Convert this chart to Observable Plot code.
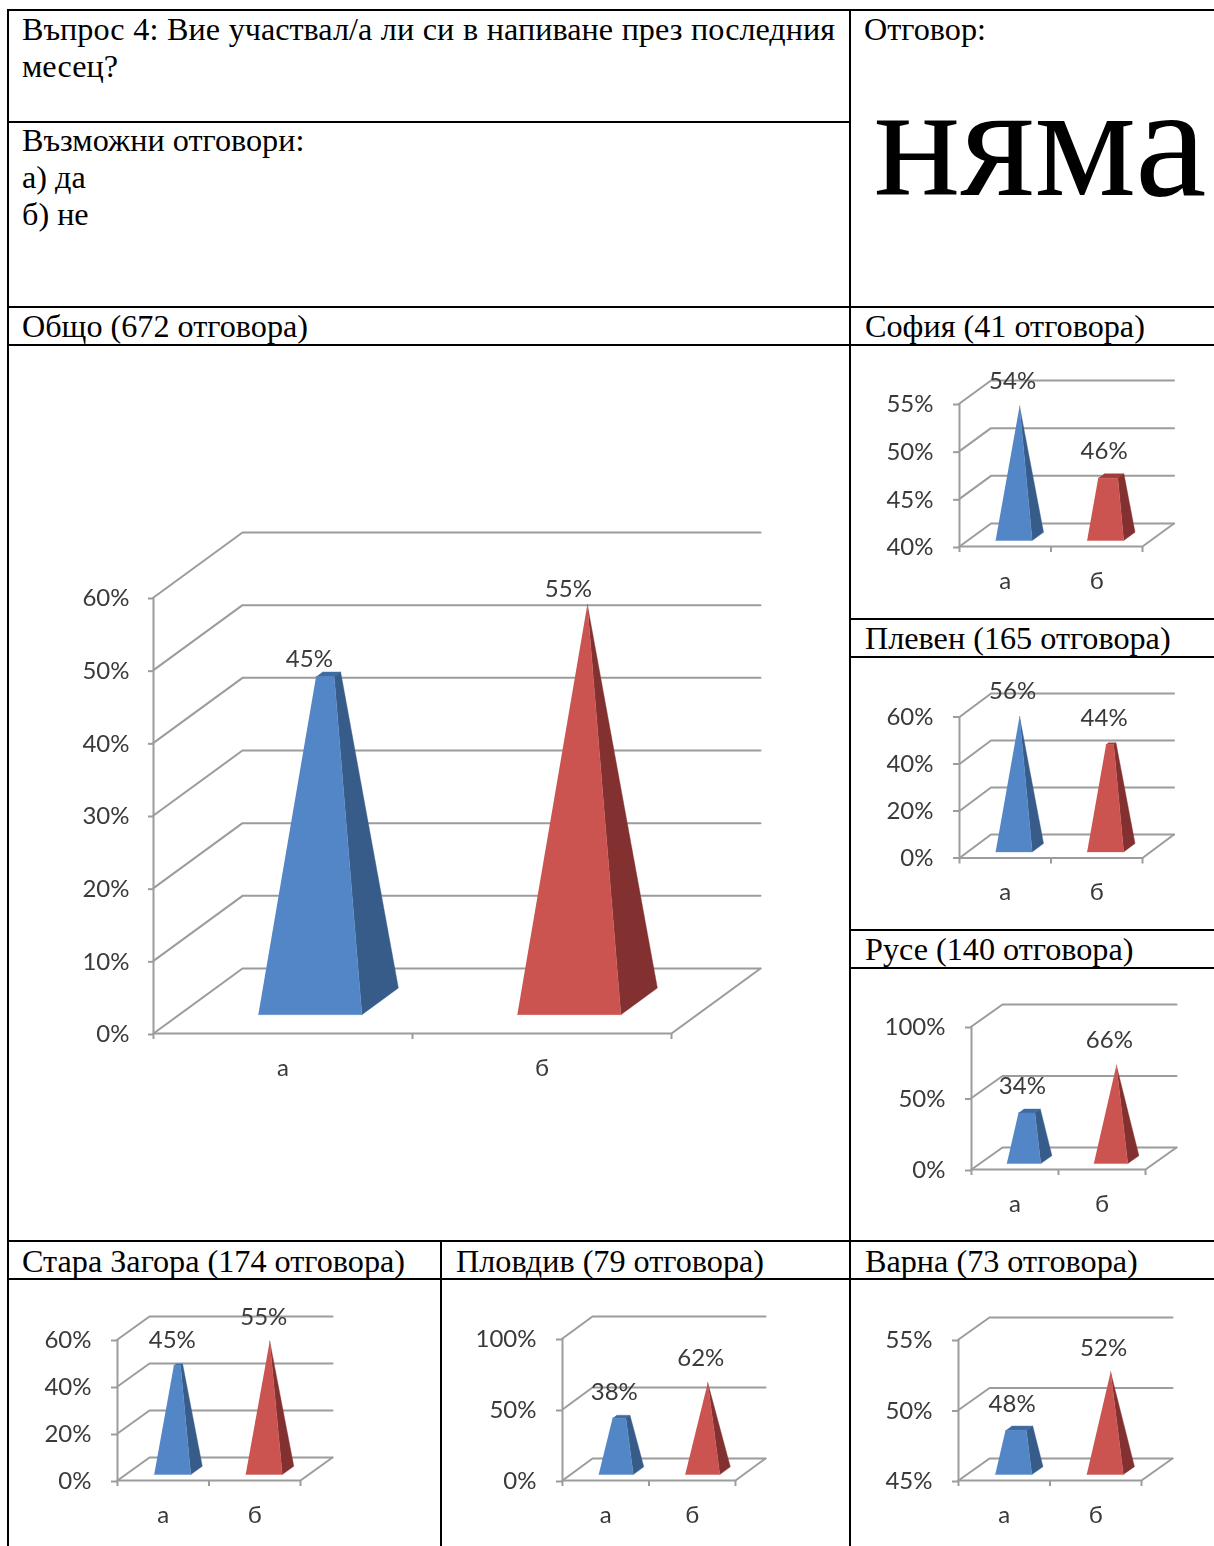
<!DOCTYPE html>
<html lang="bg">
<head>
<meta charset="utf-8">
<script src="https://cdn.jsdelivr.net/npm/d3@7"></script>
<script src="https://cdn.jsdelivr.net/npm/@observablehq/plot@0.6"></script>
<style>
html,body{margin:0;padding:0;background:#fff;width:1214px;height:1546px;overflow:hidden}
#page{position:relative;width:1214px;height:1546px;overflow:hidden;font-family:"Liberation Serif",serif;color:#000}
.rule{position:absolute;background:#000}
.t{position:absolute;font-size:32.2px;line-height:37px;white-space:nowrap}
.j{white-space:normal;text-align:justify;width:813px}
svg.plot-chart{position:absolute;background:transparent;filter:blur(.35px)}
</style>
</head>
<body>
<div id="page"></div>
<script>
// ---- Data ----
const categories = ["а", "б"];
const regions = ["Общо", "София", "Плевен", "Русе", "Стара Загора", "Пловдив", "Варна"];
const answerCounts = [672, 41, 165, 140, 174, 79, 73];
const seriesA = [45, 53.66, 55.76, 34, 45, 38, 48];
const seriesB = [54.6, 46.34, 44.24, 66, 55, 62, 52];
const axisTicks = [
  [0, 10, 20, 30, 40, 50, 60],
  [40, 45, 50, 55],
  [0, 20, 40, 60],
  [0, 50, 100],
  [0, 20, 40, 60],
  [0, 50, 100],
  [45, 50, 55]
];
const questionText = "Въпрос 4: Вие участвал/а ли си в напиване през последния месец?";
const optionsLabel = "Възможни отговори:";
const optionLines = ["а) да", "б) не"];
const answerLabel = "Отговор:";
const answerText = "няма";

// ---- Layout (frame of each chart on the page) ----
const frames = [
  {x0:153, x2:671,  yB:1033, yT:597,  dX:89,   dY:65,   d0:.29, d1:.70, u0:.305, uW:.40, lx:-19, ly:-15,   ty:1, head:[22,308]},
  {x0:959, x2:1142, yB:546,  yT:403,  dX:31.5, dY:23,   d0:.26, d1:.62, u0:.305, uW:.40, lx:-7,  ly:-24.5, ty:1, head:[865,308]},
  {x0:959, x2:1142, yB:857,  yT:716,  dX:31.5, dY:23.5, d0:.26, d1:.62, u0:.305, uW:.40, lx:-7,  ly:-25,   ty:0, head:[865,620]},
  {x0:971, x2:1145, yB:1169, yT:1026, dX:31,   dY:22,   d0:.27, d1:.63, u0:.31,  uW:.39, lx:-7,  ly:-24.5, ty:1, head:[865,931]},
  {x0:117, x2:300,  yB:1480, yT:1339, dX:32,   dY:23,   d0:.26, d1:.62, u0:.31,  uW:.40, lx:-6,  ly:-24,   ty:1, head:[22,1243]},
  {x0:562, x2:735,  yB:1480, yT:1338, dX:30,   dY:22,   d0:.27, d1:.62, u0:.325, uW:.40, lx:-7,  ly:-24,   ty:1, head:[456,1243]},
  {x0:958, x2:1141, yB:1480, yT:1339, dX:31,   dY:22,   d0:.27, d1:.63, u0:.31,  uW:.40, lx:-7,  ly:-24,   ty:1, head:[865,1243]}
];
const hRules = [[8,1214,10],[8,850,122],[8,1214,307],[8,1214,345],[850,1214,619],[850,1214,657],[850,1214,930],[850,1214,968],[8,1214,1241],[8,1214,1279]];
const vRules = [[8,10,1546],[850,10,1546],[441,1241,1279],[441,1279,1546]];

const gridColor = "#9c9c9c", textColor = "#3a3a3a";
const palette = [
  {front:"#5386c6", side:"#375c8a", cap:"#3d6ca3"},
  {front:"#cb5450", side:"#833130", cap:"#a33c39"}
];

const page = document.getElementById("page");
function rule(x, y, w, h) {
  const d = document.createElement("div");
  d.className = "rule";
  Object.assign(d.style, {left:x+"px", top:y+"px", width:w+"px", height:h+"px"});
  page.append(d);
}
function text(str, x, y, cls = "t", extra = {}) {
  const d = document.createElement("div");
  d.className = cls;
  d.textContent = str;
  Object.assign(d.style, {left:x+"px", top:y+"px"}, extra);
  page.append(d);
}
hRules.forEach(([a,b,y]) => rule(a, y-1, b-a, 2));
vRules.forEach(([x,a,b]) => rule(x-1, a-1, 2, b-a+1));

text(questionText, 22, 11, "t j");
text(optionsLabel, 22, 122);
optionLines.forEach((s,i) => text(s, 22, 159 + 37*i));
text(answerLabel, 864, 11);
text(answerText, 874, 51, "t", {fontSize:"161px", lineHeight:"180px"});
regions.forEach((r,i) => text(`${r} (${answerCounts[i]} отговора)`, frames[i].head[0], frames[i].head[1]));

function chart(i) {
  const f = frames[i];
  const ticks = axisTicks[i];
  const lo = ticks[0], hi = ticks[ticks.length-1];
  const vals = [seriesA[i], seriesB[i]];
  const peak = Math.max(...vals);
  const catPx = (f.x2 - f.x0) / 2;
  const valPx = (f.yB - f.yT) / (hi - lo);
  // oblique projection: u along the categories, d into the depth, v up the value axis
  const proj = (u, d, v) => ({x: u + d * f.dX / catPx, y: v + d * f.dY / valPx});

  const marks = [];
  const line = (pts, o) => marks.push(Plot.line(pts, {x:"x", y:"y", ...o}));
  const gridOpt = {stroke:gridColor, strokeWidth:2};

  // back wall and side wall lines
  ticks.forEach(t => {
    line([proj(0,0,t), proj(0,1,t), proj(2,1,t)], {...gridOpt, strokeLinejoin:"round"});
  });
  // floor edge
  line([proj(0,0,lo), proj(2,0,lo), proj(2,1,lo)], gridOpt);

  marks.push(Plot.axisY({anchor:"left", ticks, label:null, tickFormat:d=>d+"%", tickSize:i===0?5:6, tickPadding:i===0?19:20,
    stroke:gridColor, strokeWidth:2, fill:textColor, fontSize:24, dy:f.ty}));
  marks.push(Plot.ruleX([0], {y1:lo, y2:hi, stroke:gridColor, strokeWidth:2}));
  marks.push(Plot.axisX({anchor:"bottom", ticks:[0,1,2], label:null, tickFormat:()=>"", tickSize:6, stroke:gridColor, strokeWidth:2}));
  marks.push(Plot.axisX({anchor:"bottom", ticks:[.5,1.5], label:null, tickFormat:d=>categories[Math.floor(d)], tickSize:0, tickPadding:25,
    fill:textColor, fontSize:24}));

  // pyramids
  vals.forEach((v,k) => {
    const c = palette[k];
    const ua = k + f.u0, ub = ua + f.uW, um = (ua+ub)/2, dm = (f.d0+f.d1)/2;
    const t = (v-lo)/(peak-lo);
    const at = (u,d,s) => proj(u+(um-u)*s, d+(dm-d)*s, lo+(peak-lo)*s);
    const fl = at(ua,f.d0,0), fr = at(ub,f.d0,0), br = at(ub,f.d1,0);
    const tfl = at(ua,f.d0,t), tfr = at(ub,f.d0,t), tbr = at(ub,f.d1,t), tbl = at(ua,f.d1,t);
    const face = (pts,col) => line(pts, {fill:col, stroke:col, strokeWidth:.4});
    face([tfl,tfr,tbr,tbl], c.cap);
    face([fr,br,tbr,tfr], c.side);
    face([fl,fr,tfr,tfl], c.front);
    const top = at(um,dm,t);
    marks.push(Plot.text([{...top, label:Math.round(v)+"%"}], {x:"x", y:"y", text:"label", dx:f.lx, dy:f.ly,
      fill:textColor, fontSize:24}));
  });

  const mL = 110, mR = f.dX + 6, mT = f.dY + 34, mB = 60;
  const svg = Plot.plot({
    width: f.x2-f.x0+mL+mR, height: f.yB-f.yT+mT+mB,
    marginLeft:mL, marginRight:mR, marginTop:mT, marginBottom:mB,
    x:{domain:[0,2], axis:null}, y:{domain:[lo,hi], axis:null},
    style:{fontFamily:"Lato, sans-serif", background:"transparent", maxWidth:"none"},
    marks
  });
  svg.classList.add("plot-chart");
  svg.style.left = (f.x0-mL)+"px";
  svg.style.top = (f.yT-mT)+"px";
  page.append(svg);
}
frames.forEach((_,i)=>chart(i));
</script>
</body>
</html>
